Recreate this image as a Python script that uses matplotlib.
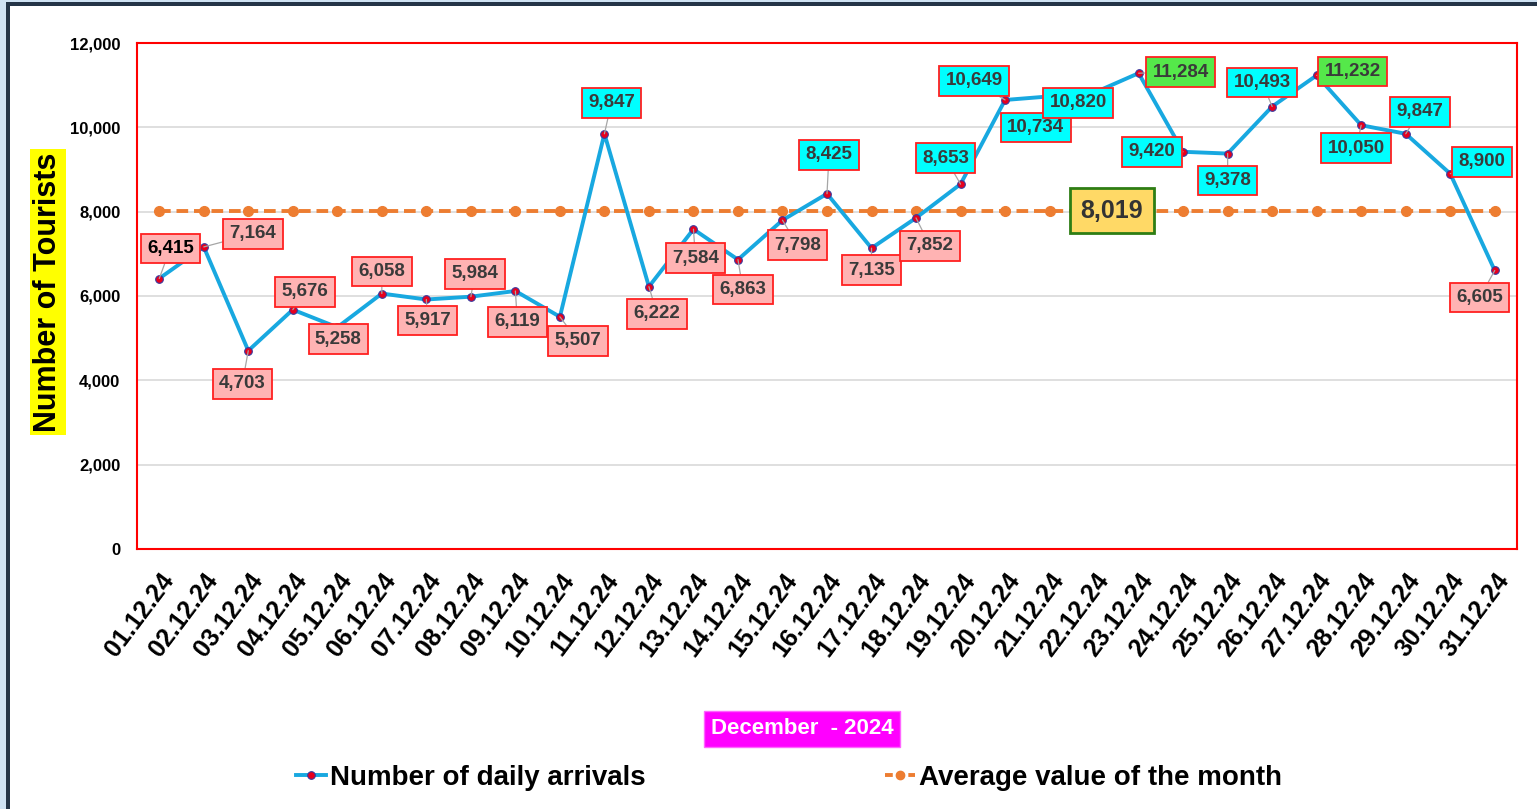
import matplotlib as mpl
import matplotlib.pyplot as plt
from matplotlib.lines import Line2D
from matplotlib.patches import Rectangle

mpl.rcParams.update({
    "font.family": ["Liberation Sans", "DejaVu Sans"],
    "font.weight": "bold",
})

dates = [f"{d:02d}.12.24" for d in range(1, 32)]
arrivals = [6415, 7164, 4703, 5676, 5258, 6058, 5917, 5984, 6119, 5507,
            9847, 6222, 7584, 6863, 7798, 8425, 7135, 7852, 8653, 10649,
            10734, 10820, 11284, 9420, 9378, 10493, 11232, 10050, 9847, 8900,
            6605]
avg_value = 8019
avg_series = [avg_value] * len(dates)

# label offsets in pixels (dx right, dy up)
label_offsets = [(11, 30), (49, 13), (-6, -33), (12, 18), (1, -12), (0, 22),
                 (1, -21), (4, 23), (2, -31), (18, -24), (7, 31), (8, -27),
                 (2, -29), (5, -30), (15, -25), (2, 39), (0, -22), (14, -28),
                 (-15, 26), (-31, 19), (-14, -31), (-16, -10), (42, 1),
                 (-31, 0), (0, -27), (-10, 24), (36, 4), (-5, -23), (14, 22),
                 (32, 12), (-15, -27)]

C_LINE = "#18A8E0"
C_AVG = "#ED7D31"
C_LOW = "#FFB3B3"
C_HIGH = "#00FFFF"
C_TOP = "#55E84A"

fig = plt.figure(figsize=(15.37, 8.09), dpi=100)
ax = fig.add_axes([137 / 1537, 1 - 549 / 809, 1380 / 1537, 506 / 809])

x = list(range(len(dates)))
ax.plot(x, avg_series, color=C_AVG, lw=2.8, ls=(0, (3, 1.5)), marker="o",
        ms=7, mec=C_AVG, mfc=C_AVG, zorder=2)
ax.plot(x, arrivals, color=C_LINE, lw=2.8, marker="o", ms=5.5,
        mfc="#E8001C", mec="#3A3AA0", mew=0.8, zorder=3)

top_two = sorted(arrivals, reverse=True)[:2]
for i, (v, (dx, dy)) in enumerate(zip(arrivals, label_offsets)):
    if v in top_two:
        fc = C_TOP
    elif v > avg_value:
        fc = C_HIGH
    else:
        fc = C_LOW
    tc = "black" if i == 0 else "#3A3A3A"
    ax.annotate(f"{v:,}", (i, v), xytext=(dx, dy), textcoords="offset pixels",
                ha="center", va="center", fontsize=13.5, color=tc,
                fontweight="bold",
                bbox=dict(boxstyle="square,pad=0.34", fc=fc, ec="#FF2020", lw=1.3),
                arrowprops=dict(arrowstyle="-", color="#A6A6A6", lw=0.9,
                                shrinkA=0, shrinkB=0),
                zorder=5)

ax.text(21.4, avg_value, f"{avg_value:,}", ha="center", va="center",
        fontsize=18, color="#333333", fontweight="bold",
        bbox=dict(boxstyle="square,pad=0.42", fc="#FFD966", ec="#2E7D14", lw=2),
        zorder=6)

ax.set_xlim(-0.5, len(dates) - 0.5)
ax.set_ylim(0, 12000)
ax.set_yticks(range(0, 12001, 2000))
ax.set_yticklabels([f"{t:,}" for t in range(0, 12001, 2000)],
                   fontsize=12, fontweight="bold")
ax.set_xticks(x)
ax.set_xticklabels(dates, rotation=53, ha="right", rotation_mode="anchor",
                   fontsize=18, fontweight="bold")
ax.tick_params(axis="both", length=0)
ax.tick_params(axis="y", pad=12)
ax.tick_params(axis="x", pad=14)
ax.grid(axis="y", color="#D9D9D9", lw=1.2)
ax.set_axisbelow(True)
for s in ax.spines.values():
    s.set_color("#FF0000")
    s.set_linewidth(1.5)

fig.text(48 / 1537, 1 - 292 / 809, "Number of Tourists", rotation=90,
         ha="center", va="center", fontsize=22, fontweight="bold",
         bbox=dict(boxstyle="square,pad=0.1", fc="#FFFF00", ec="none"))

fig.text(802 / 1537, 1 - 729 / 809, "December  - 2024", ha="center", va="center",
         fontsize=16, color="white", fontweight="bold",
         bbox=dict(boxstyle="square,pad=0.32", fc="#FF00FF", ec="#FF66FF", lw=1))

handles = [
    Line2D([], [], color=C_LINE, lw=2.8, marker="o", ms=5.5, mfc="#E8001C",
           mec="#3A3AA0", mew=0.8),
    Line2D([], [], color=C_AVG, lw=2.8, ls=(0, (2, 1)), marker="o", ms=6,
           mfc=C_AVG, mec=C_AVG),
]
fig.legend(handles, ["Number of daily arrivals", "Average value of the month"],
           loc="center", bbox_to_anchor=(789 / 1537, 1 - 778 / 809), ncol=2,
           frameon=False, handlelength=1.1, handletextpad=0.15,
           columnspacing=8.6, prop=dict(weight="bold", size=20))

# outer frame (left and top edges only, as in the screenshot)
fig.patches.append(Rectangle((0, 0), 6 / 1537, 1, transform=fig.transFigure,
                             fc="#CFE2F3", ec="none", zorder=0))
fig.patches.append(Rectangle((6 / 1537, 0), 4 / 1537, 1, transform=fig.transFigure,
                             fc="#243447", ec="none", zorder=0))
fig.patches.append(Rectangle((6 / 1537, 1 - 2 / 809), 1, 2 / 809,
                             transform=fig.transFigure, fc="#CFE2F3", ec="none",
                             zorder=0))
fig.patches.append(Rectangle((6 / 1537, 1 - 6 / 809), 1, 4 / 809,
                             transform=fig.transFigure, fc="#243447", ec="none",
                             zorder=0))

fig.savefig("out.png", dpi=100)
